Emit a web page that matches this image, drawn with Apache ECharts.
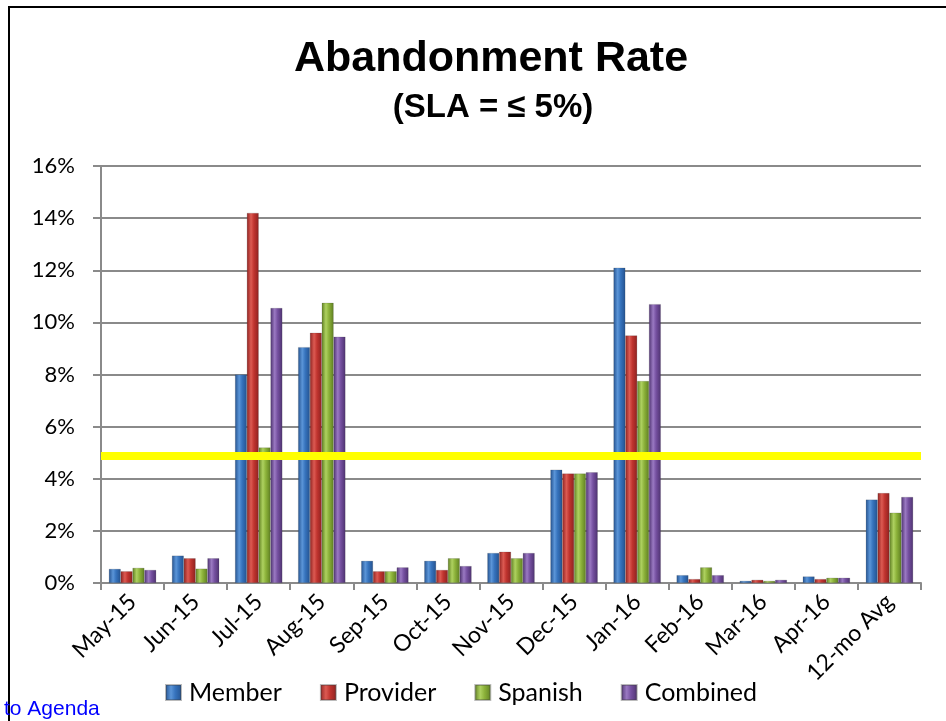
<!DOCTYPE html>
<html><head><meta charset="utf-8">
<script src="https://cdn.jsdelivr.net/npm/echarts@6/dist/echarts.min.js"></script>
<style>html,body{margin:0;padding:0;background:#fff}#c{width:946px;height:721px}</style>
</head><body><div id="c"></div>
<script>
const categories = ['May-15','Jun-15','Jul-15','Aug-15','Sep-15','Oct-15','Nov-15','Dec-15','Jan-16','Feb-16','Mar-16','Apr-16','12-mo Avg'];
const member   = [0.54, 1.05, 8.0, 9.05, 0.85, 0.85, 1.15, 4.35, 12.1, 0.3, 0.08, 0.25, 3.2];
const provider = [0.45, 0.95, 14.2, 9.6, 0.45, 0.5, 1.2, 4.2, 9.5, 0.15, 0.12, 0.15, 3.45];
const spanish  = [0.58, 0.55, 5.2, 10.75, 0.45, 0.95, 0.95, 4.2, 7.75, 0.6, 0.08, 0.2, 2.7];
const combined = [0.5, 0.95, 10.55, 9.45, 0.6, 0.65, 1.15, 4.25, 10.7, 0.3, 0.12, 0.2, 3.3];
const slaLine = 4.9;
const yTicks = [0, 2, 4, 6, 8, 10, 12, 14, 16];

const grad = (dark, mid, light) => new echarts.graphic.LinearGradient(0, 0, 1, 0, [
  {offset: 0, color: dark}, {offset: 0.35, color: light}, {offset: 0.6, color: mid}, {offset: 1, color: dark}
]);
const styles = [
  {name: 'Member', data: member, c: grad('#24528f', '#3673bd', '#5b95d8')},
  {name: 'Provider', data: provider, c: grad('#8e2220', '#c0342f', '#dc5a52')},
  {name: 'Spanish', data: spanish, c: grad('#5f7f22', '#8cb23a', '#aed160')},
  {name: 'Combined', data: combined, c: grad('#4e3270', '#7550a0', '#9a79c2')}
];

const chart = echarts.init(document.getElementById('c'), null, {renderer: 'canvas'});
const series = styles.map((s, i) => ({
  name: s.name, type: 'bar', data: s.data,
  barGap: '0%', barCategoryGap: '25%',
  itemStyle: {color: s.c, borderColor: 'rgba(60,60,60,0.35)', borderWidth: 0.5},
  emphasis: {disabled: true},
  markLine: i === 0 ? {
    silent: true, symbol: ['none', 'none'], label: {show: false},
    lineStyle: {color: '#ffff00', width: 8, type: 'solid'},
    data: [{yAxis: slaLine}], z: 10
  } : undefined
}));

chart.setOption({
  animation: false,
  backgroundColor: '#fff',
  title: [
    {text: 'Abandonment Rate', left: 486, top: 33, textAlign: 'center',
     textStyle: {fontFamily: 'Liberation Sans, Arial', fontWeight: 'bold', fontSize: 43, color: '#000'}},
    {text: '(SLA = \u2264 5%)', left: 488, top: 86, textAlign: 'center',
     textStyle: {fontFamily: 'Liberation Sans, Arial', fontWeight: 'bold', fontSize: 33, color: '#000'}}
  ],
  legend: {
    data: styles.map(s => s.name), left: 160, top: 675, itemWidth: 15, itemHeight: 15, itemGap: 38,
    icon: 'rect',
    textStyle: {fontFamily: 'Lato, Open Sans, sans-serif', fontSize: 25, color: '#000', padding: [0, 0, 0, 3]}
  },
  grid: {left: 101, right: 25, top: 166, bottom: 138},
  xAxis: {
    type: 'category', data: categories,
    axisLine: {lineStyle: {color: '#8a8a8a', width: 2}},
    axisTick: {show: true, length: 7, lineStyle: {color: '#8a8a8a', width: 2}},
    axisLabel: {rotate: 45, interval: 0, fontFamily: 'Lato, Open Sans, sans-serif', fontSize: 23, color: '#000', margin: 15}
  },
  yAxis: {
    type: 'value', min: yTicks[0], max: yTicks[yTicks.length - 1], interval: 2,
    axisLine: {show: true, lineStyle: {color: '#8a8a8a', width: 2}},
    axisTick: {show: true, length: 8, lineStyle: {color: '#8a8a8a', width: 2}},
    splitLine: {lineStyle: {color: '#8a8a8a', width: 2}},
    axisLabel: {formatter: v => v + '%', fontFamily: 'Lato, Open Sans, sans-serif', fontSize: 22, color: '#000', margin: 26}
  },
  graphic: [
    {type: 'rect', shape: {x: 9, y: 7, width: 960, height: 740}, style: {fill: 'none', stroke: '#000', lineWidth: 2}, z: 100, silent: true},
    {type: 'text', left: 4, top: 699, style: {text: 'to Agenda', fill: '#0000ff', font: '21px Liberation Sans, Arial'}, z: 101}
  ],
  series: series
});
</script></body></html>
